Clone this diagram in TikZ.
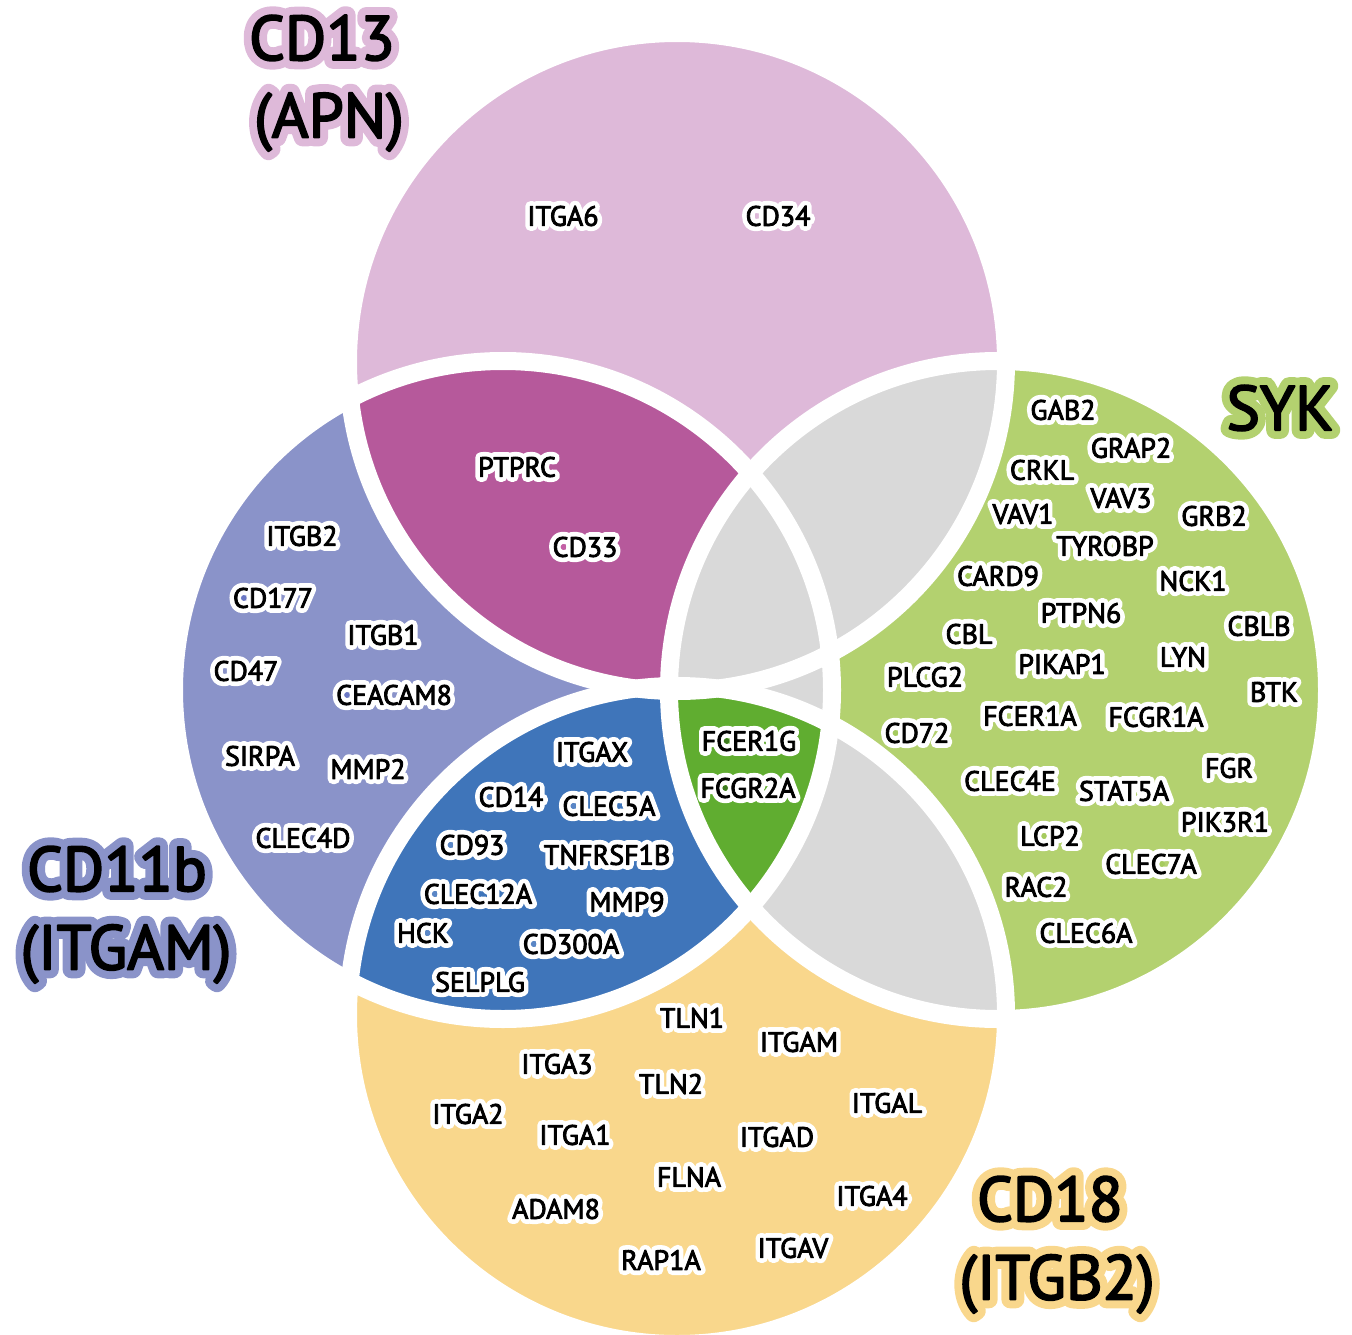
\documentclass[tikz,border=0pt]{standalone}
\usepackage{fontspec}
\setmainfont{PT Sans}
\newfontfamily\genefont{PT Sans}[FakeBold=3]
\newfontfamily\halofont{PT Sans}[FakeBold=36]
\newfontfamily\titlefont{PT Sans}[FakeBold=3]
\newfontfamily\titlehalo{PT Sans}[FakeBold=28]
\usetikzlibrary{calc}

\definecolor{pinkT}{HTML}{DEB9D9}
\definecolor{lavL}{HTML}{8A93C9}
\definecolor{greenR}{HTML}{B3D16F}
\definecolor{yellowB}{HTML}{F9D78C}
\definecolor{magTL}{HTML}{B6599B}
\definecolor{blueLB}{HTML}{3F75BA}
\definecolor{grayX}{HTML}{D9D9D9}
\definecolor{greenLRB}{HTML}{60AD30}
\definecolor{dotL}{HTML}{6A77C4}
\definecolor{dotR}{HTML}{A5CB5E}
\definecolor{dotM}{HTML}{C45FA6}
\definecolor{dotB}{HTML}{5A86C6}
\definecolor{dotG}{HTML}{3C7A1E}

% text with a halo: a stroked copy behind the plain text
\newcommand\halo[2]{\makebox[0pt][l]{\color{#1}\halofont #2}{\genefont #2}}
\newcommand\thalo[2]{\makebox[0pt][l]{\color{#1}\titlehalo #2}{\titlefont #2}}
% gene label
\newcommand\gn[3]{\node[gene] (#1) at (#2,#3) {\halo{white}{#1}};}
% small marker dot inside a label, offset from its left edge
\newcommand\gdot[3]{\fill[#3] ($(#1.west)+(#2,0)$) circle (2.8);}
% set title
\newcommand\st[5]{\node[setlabel] (#1) at (#2,#3) {\thalo{#4}{#5}};}

\begin{document}
\begin{tikzpicture}[x=1pt,y=-1pt,line join=round,
  gene/.style={inner sep=0pt,font=\fontsize{28}{30}\selectfont},
  setlabel/.style={inner sep=0pt,font=\fontsize{63}{70}\selectfont},
  ring/.style={draw=white,line width=18pt}]
\useasboundingbox (0,0) rectangle (1352,1335);
\def\R{329}
\coordinate (cT) at (677,362);
\coordinate (cL) at (503,690);
\coordinate (cR) at (998,690);
\coordinate (cB) at (677,1015);

% single sets
\fill[pinkT] (cT) circle (\R);
\fill[lavL] (cL) circle (\R);
\fill[greenR] (cR) circle (\R);
\fill[yellowB] (cB) circle (\R);
% overlaps with CD11b
\begin{scope}
  \clip (cL) circle (\R);
  \fill[magTL] (cT) circle (\R);
  \fill[blueLB] (cB) circle (\R);
\end{scope}
% overlaps with SYK
\begin{scope}
  \clip (cR) circle (\R);
  \fill[grayX] (cT) circle (\R);
  \fill[grayX] (cL) circle (\R);
  \fill[grayX] (cB) circle (\R);
  \clip (cL) circle (\R);
  \fill[greenLRB] (cB) circle (\R);
\end{scope}
% white separating rings
\draw[ring] (cT) circle (\R);
\draw[ring] (cL) circle (\R);
\draw[ring] (cR) circle (\R);
\draw[ring] (cB) circle (\R);

% set titles
\st{tCDa}{322}{38}{pinkT}{CD13}
\st{tCDb}{329}{122}{pinkT}{(APN)}
\st{tSYK}{1280}{408}{greenR}{SYK}
\st{tLa}{117}{869}{lavL}{CD11b}
\st{tLb}{126}{954}{lavL}{(ITGAM)}
\st{tBa}{1050}{1199}{yellowB}{CD18}
\st{tBb}{1057}{1284}{yellowB}{(ITGB2)}

% CD13 only
\gn{ITGA6}{563}{216}
\gn{CD34}{778}{216}
% CD13 and CD11b
\gn{PTPRC}{517}{467}
\gn{CD33}{585}{547}
% CD11b only
\gn{ITGB2}{302}{536}
\gn{CD177}{273}{598}
\gn{ITGB1}{383}{635}
\gn{CD47}{246}{671}
\gn{CEACAM8}{394}{695}
\gn{SIRPA}{260}{756}
\gn{MMP2}{368}{769}
\gn{CLEC4D}{303}{838}
% CD11b and CD18
\gn{ITGAX}{592}{752}
\gn{CD14}{511}{797}
\gn{CLEC5A}{609}{806}
\gn{CD93}{472}{845}
\gn{TNFRSF1B}{607}{855}
\gn{CLEC12A}{478}{894}
\gn{MMP9}{627}{902}
\gn{HCK}{423}{933}
\gn{CD300A}{571}{944}
\gn{SELPLG}{480}{982}
% CD11b, CD18 and SYK
\gn{FCER1G}{749}{741}
\gn{FCGR2A}{748}{788}
% SYK only
\gn{GAB2}{1063}{410}
\gn{GRAP2}{1131}{448}
\gn{CRKL}{1042}{470}
\gn{VAV3}{1121}{498}
\gn{VAV1}{1023}{514}
\gn{GRB2}{1214}{516}
\gn{TYROBP}{1105}{546}
\gn{CARD9}{998}{576}
\gn{NCK1}{1193}{581}
\gn{PTPN6}{1081}{613}
\gn{CBLB}{1259}{626}
\gn{CBL}{969}{634}
\gn{LYN}{1183}{657}
\gn{PIKAP1}{1062}{664}
\gn{PLCG2}{925}{677}
\gn{BTK}{1274}{692}
\gn{FCER1A}{1030}{716}
\gn{FCGR1A}{1156}{717}
\gn{CD72}{917}{733}
\gn{FGR}{1229}{768}
\gn{CLEC4E}{1010}{781}
\gn{STAT5A}{1124}{791}
\gn{PIK3R1}{1225}{822}
\gn{LCP2}{1050}{836}
\gn{CLEC7A}{1151}{864}
\gn{RAC2}{1036}{887}
\gn{CLEC6A}{1086}{933}
% CD18 only
\gn{TLN1}{692}{1018}
\gn{ITGAM}{799}{1042}
\gn{ITGA3}{557}{1064}
\gn{TLN2}{671}{1084}
\gn{ITGAL}{887}{1103}
\gn{ITGA2}{468}{1114}
\gn{ITGA1}{575}{1135}
\gn{ITGAD}{777}{1137}
\gn{FLNA}{689}{1177}
\gn{ITGA4}{872}{1196}
\gn{ADAM8}{556}{1209}
\gn{ITGAV}{793}{1248}
\gn{RAP1A}{661}{1260}

% marker dots
\gdot{CD177}{11}{dotL}
\gdot{CEACAM8}{11}{dotL}
\gdot{CLEC4D}{11}{dotL}
\gdot{CD33}{11}{dotM}
\gdot{CD14}{11}{dotB}
\gdot{CLEC5A}{11}{dotB}
\gdot{CD93}{11}{dotB}
\gdot{CLEC12A}{11}{dotB}
\gdot{HCK}{31}{dotB}
\gdot{CD300A}{11}{dotB}
\gdot{FCER1G}{25}{dotG}
\gdot{FCGR2A}{25}{dotG}
\gdot{CRKL}{11}{dotR}
\gdot{CARD9}{11}{dotR}
\gdot{NCK1}{31}{dotR}
\gdot{CBLB}{11}{dotR}
\gdot{CBL}{11}{dotR}
\gdot{CD72}{11}{dotR}
\gdot{CLEC4E}{11}{dotR}
\gdot{LCP2}{24}{dotR}
\gdot{CLEC7A}{57}{dotR}
\gdot{RAC2}{44}{dotR}
\gdot{CLEC6A}{57}{dotR}
\end{tikzpicture}
\end{document}
